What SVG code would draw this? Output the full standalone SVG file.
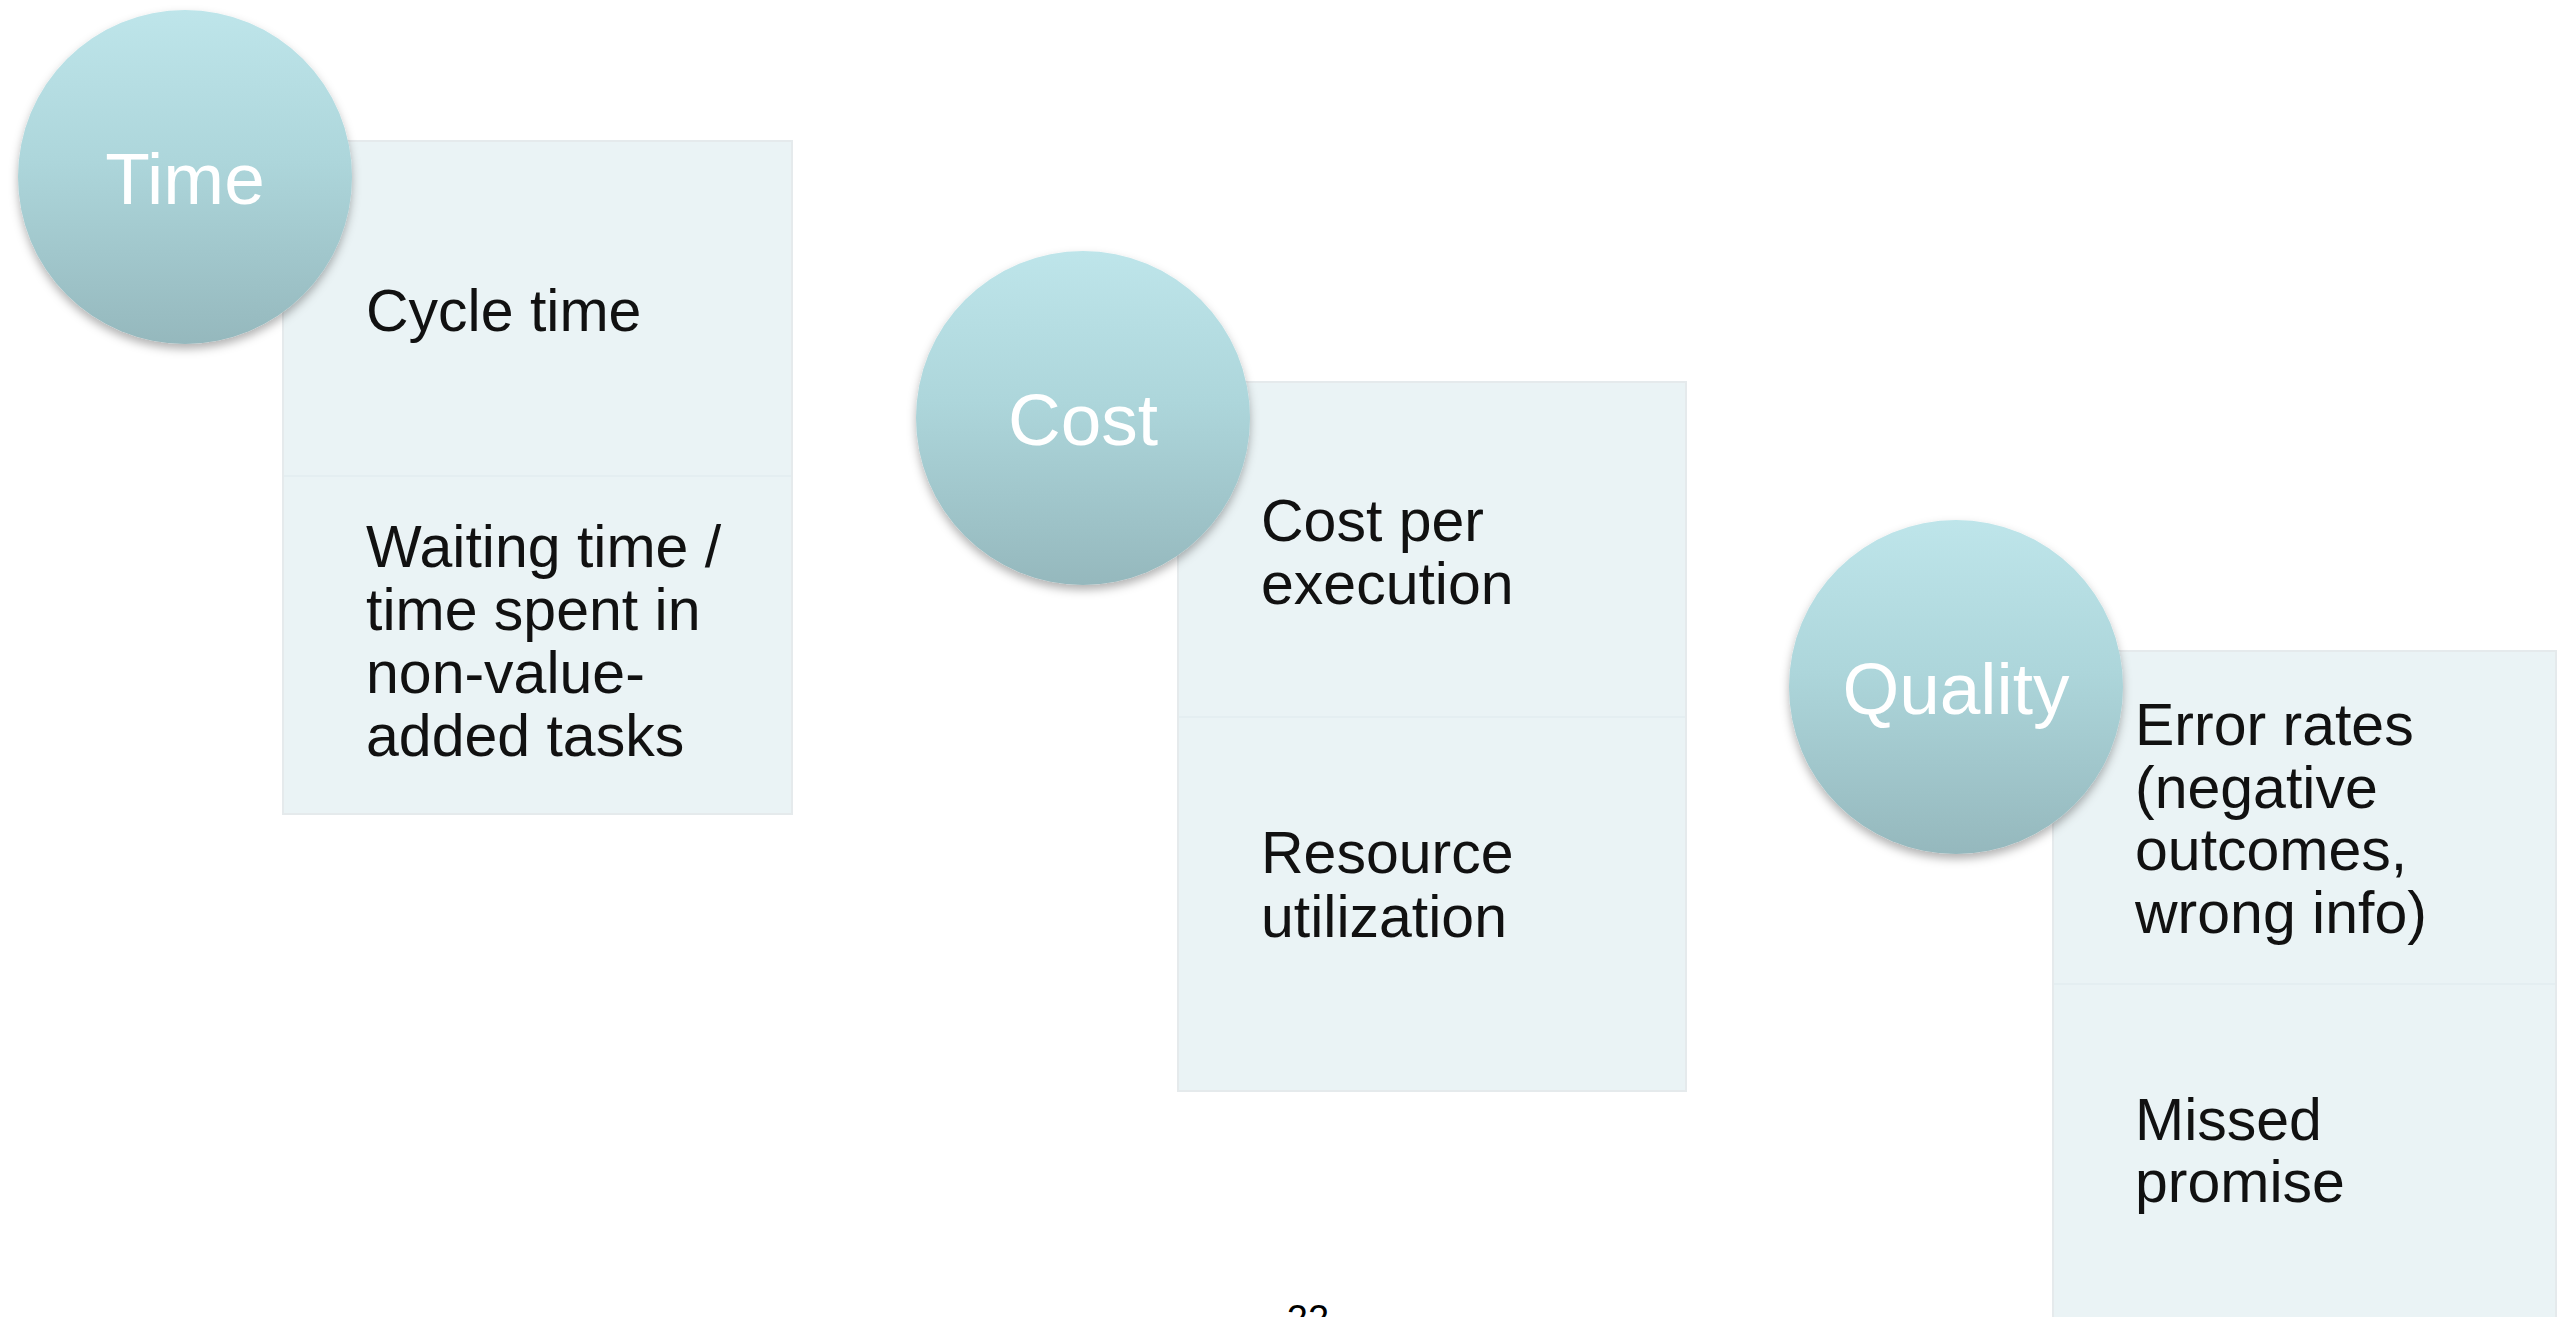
<svg xmlns="http://www.w3.org/2000/svg" width="2570" height="1317" viewBox="0 0 2570 1317">
<style>
.box{fill:#EAF3F5;stroke:#E5EAEC;stroke-width:2}
.div{stroke:#E4EEF1;stroke-width:2}
.item{font-family:"Liberation Sans",Arial,Helvetica,sans-serif;font-size:59px;fill:#111}
.head{font-family:"Liberation Sans",Arial,Helvetica,sans-serif;font-size:73px;fill:#FFFFFF;text-anchor:middle}
.circ{fill:url(#cg);filter:url(#sh)}
.pg{font-family:"Liberation Sans",Arial,Helvetica,sans-serif;font-size:38px;fill:#000;text-anchor:middle}
</style>
<defs>
<linearGradient id="cg" x1="0" y1="0" x2="0" y2="1">
<stop offset="0" stop-color="#BEE5EA"/>
<stop offset="0.45" stop-color="#ADD6DB"/>
<stop offset="1" stop-color="#95B8BD"/>
</linearGradient>
<filter id="sh" x="-20%" y="-20%" width="140%" height="145%">
<feDropShadow dx="0" dy="5" stdDeviation="5" flood-color="#000" flood-opacity="0.3"/>
</filter>
</defs>
<rect width="2570" height="1317" fill="#FFFFFF"/>

<g id="time">
<rect class="box" x="283" y="141" width="509" height="673"/>
<line class="div" x1="284" y1="476" x2="791" y2="476"/>
<text class="item" x="366" y="331">Cycle time</text>
<text class="item" x="366" y="567">Waiting time /</text>
<text class="item" x="366" y="630">time spent in</text>
<text class="item" x="366" y="693">non-value-</text>
<text class="item" x="366" y="756">added tasks</text>
<circle class="circ" cx="185" cy="177" r="167"/>
<text class="head" x="185" y="204">Time</text>
</g>

<g id="cost">
<rect class="box" x="1178" y="382" width="508" height="709"/>
<line class="div" x1="1179" y1="717" x2="1685" y2="717"/>
<text class="item" x="1261" y="541">Cost per</text>
<text class="item" x="1261" y="604">execution</text>
<text class="item" x="1261" y="873">Resource</text>
<text class="item" x="1261" y="937">utilization</text>
<circle class="circ" cx="1083" cy="418" r="167"/>
<text class="head" x="1083" y="445">Cost</text>
</g>

<g id="quality">
<rect class="box" x="2053" y="651" width="503" height="680"/>
<line class="div" x1="2054" y1="984" x2="2555" y2="984"/>
<text class="item" x="2135" y="745">Error rates</text>
<text class="item" x="2135" y="808">(negative</text>
<text class="item" x="2135" y="870">outcomes,</text>
<text class="item" x="2135" y="933">wrong info)</text>
<text class="item" x="2135" y="1140">Missed</text>
<text class="item" x="2135" y="1202">promise</text>
<circle class="circ" cx="1956" cy="687" r="167"/>
<text class="head" x="1956" y="714">Quality</text>
</g>

<g id="page-number">
<text class="pg" x="1308" y="1332">22</text>
</g>
</svg>
